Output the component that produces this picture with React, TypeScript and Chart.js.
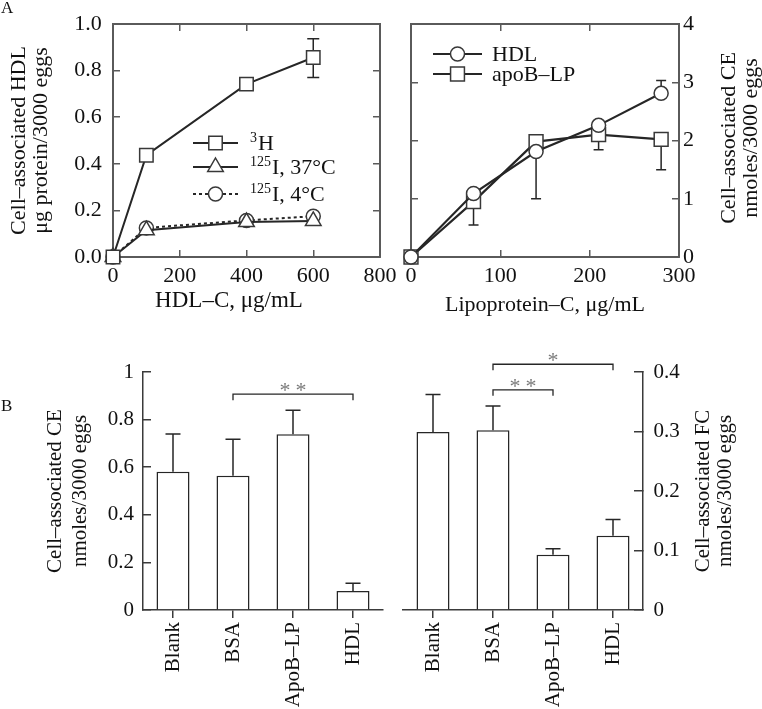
import React, { useEffect, useRef } from 'react';
import { Chart, registerables } from 'chart.js';

Chart.register(...registerables);

// ---------------- data ----------------
// Panel A (left): cell-associated HDL vs HDL-C
const hdlConcentrations = [0, 100, 400, 600];
const tritiumValues = [0, 0.437, 0.742, 0.856];
const tritiumErrLow = [null, null, null, 0.77];
const tritiumErrHigh = [null, null, null, 0.937];
const iodine37Values = [0, 0.115, 0.15, 0.155];
const iodine4Values = [0, 0.125, 0.157, 0.175];
const aLeftLegendSup = ['3', '125', '125'];
const aLeftLegendText = ['H', 'I, 37°C', 'I, 4°C'];

// Panel A (right): cell-associated CE vs lipoprotein-C
const lipoproteinConcentrations = [0, 70, 140, 210, 280];
const hdlCEValues = [0, 1.09, 1.81, 2.26, 2.81];
const hdlCEErrLow = [null, null, 1.0, null, null];
const hdlCEErrHigh = [null, null, null, null, 3.03];
const apoBCEValues = [0, 0.95, 1.98, 2.1, 2.02];
const apoBCEErrLow = [null, 0.55, null, 1.84, 1.5];
const apoBCEErrHigh = [null, null, null, null, null];
const aRightLegendText = ['HDL', 'apoB–LP'];

// Panel B
const treatments = ['Blank', 'BSA', 'ApoB–LP', 'HDL'];
const ceValues = [0.581, 0.564, 0.738, 0.08];
const ceErrHigh = [0.739, 0.717, 0.839, 0.112];
const fcValues = [0.299, 0.302, 0.093, 0.125];
const fcErrHigh = [0.362, 0.343, 0.103, 0.152];
const ceSignificance = [{ from: 'BSA', to: 'HDL', level: 0.907, text: '**' }];
const fcSignificance = [
  { from: 'BSA', to: 'ApoB–LP', level: 0.37, text: '**' },
  { from: 'BSA', to: 'HDL', level: 0.413, text: '*' },
];

// ---------------- styling ----------------
const SERIF = "'Liberation Serif', 'Times New Roman', Times, serif";
const TEXT = '#111111';
const LINE = '#262626';
const MARK = '#383838';
const FRAME = '#5a5a5a';
const AXIS = '#3a3a3a';

const fontA = { family: SERIF, size: 22 };
const fontB = { family: SERIF, size: 21 };

function drawMarker(ctx: CanvasRenderingContext2D, style: string, x: number, y: number, r: number) {
  ctx.beginPath();
  if (style === 'rect') {
    const s = r * Math.SQRT1_2;
    ctx.rect(x - s, y - s, 2 * s, 2 * s);
  } else if (style === 'circle') {
    ctx.arc(x, y, r, 0, Math.PI * 2);
  } else {
    ctx.moveTo(x, y - r);
    ctx.lineTo(x + 0.866 * r, y + 0.5 * r);
    ctx.lineTo(x - 0.866 * r, y + 0.5 * r);
    ctx.closePath();
  }
  ctx.fill();
  ctx.stroke();
}

function makeErrorBars(cap: number) {
  return {
    id: 'errorBars',
    beforeDatasetsDraw(chart: any) {
      const ctx = chart.ctx as CanvasRenderingContext2D;
      ctx.save();
      ctx.strokeStyle = LINE;
      ctx.lineWidth = 1.5;
      ctx.setLineDash([]);
      chart.data.datasets.forEach((ds: any, di: number) => {
        const meta = chart.getDatasetMeta(di);
        const yScale = chart.scales[meta.yAxisID];
        meta.data.forEach((el: any, i: number) => {
          [ds.errLow ? ds.errLow[i] : null, ds.errHigh ? ds.errHigh[i] : null].forEach((v) => {
            if (v == null) return;
            const yp = yScale.getPixelForValue(v);
            ctx.beginPath();
            ctx.moveTo(el.x, el.y);
            ctx.lineTo(el.x, yp);
            ctx.moveTo(el.x - cap, yp);
            ctx.lineTo(el.x + cap, yp);
            ctx.stroke();
          });
        });
      });
      ctx.restore();
    },
  };
}

function makeInsetLegend(
  items: { sup?: string; text: string; marker: string; r: number; dash?: number[] }[],
  geo: { x0: number; x1: number; textX: number; rows: number[]; size: number }
) {
  return {
    id: 'insetLegend',
    afterDatasetsDraw(chart: any) {
      const ctx = chart.ctx as CanvasRenderingContext2D;
      items.forEach((it, k) => {
        const y = geo.rows[k];
        ctx.save();
        ctx.strokeStyle = LINE;
        ctx.lineWidth = 2;
        ctx.setLineDash(it.dash || []);
        ctx.beginPath();
        ctx.moveTo(geo.x0, y);
        ctx.lineTo(geo.x1, y);
        ctx.stroke();
        ctx.setLineDash([]);
        ctx.fillStyle = '#fff';
        ctx.strokeStyle = MARK;
        ctx.lineWidth = 1.5;
        drawMarker(ctx, it.marker, (geo.x0 + geo.x1) / 2, y, it.r);
        ctx.fillStyle = TEXT;
        ctx.textAlign = 'left';
        ctx.textBaseline = 'alphabetic';
        const base = y + geo.size * 0.34;
        let x = geo.textX;
        if (it.sup) {
          ctx.font = `${Math.round(geo.size * 0.64)}px ${SERIF}`;
          ctx.fillText(it.sup, x, base - geo.size * 0.38);
          x += ctx.measureText(it.sup).width + 1;
        }
        ctx.font = `${geo.size}px ${SERIF}`;
        ctx.fillText(it.text, x, base);
        ctx.restore();
      });
    },
  };
}

function makeSideTitle(lines: string[], xs: number[], yc: number, size: number) {
  return {
    id: 'sideTitle',
    afterDraw(chart: any) {
      const ctx = chart.ctx as CanvasRenderingContext2D;
      ctx.save();
      ctx.fillStyle = TEXT;
      ctx.font = `${size}px ${SERIF}`;
      ctx.textAlign = 'center';
      ctx.textBaseline = 'middle';
      lines.forEach((t, i) => {
        ctx.save();
        ctx.translate(xs[i], yc);
        ctx.rotate(-Math.PI / 2);
        ctx.fillText(t, 0, 0);
        ctx.restore();
      });
      ctx.restore();
    },
  };
}

function makeBottomTitle(text: string, x: number, y: number, size: number) {
  return {
    id: 'bottomTitle',
    afterDraw(chart: any) {
      const ctx = chart.ctx as CanvasRenderingContext2D;
      ctx.save();
      ctx.fillStyle = TEXT;
      ctx.font = `${size}px ${SERIF}`;
      ctx.textAlign = 'center';
      ctx.textBaseline = 'middle';
      ctx.fillText(text, x, y);
      ctx.restore();
    },
  };
}

function makeBrackets(items: { from: string; to: string; level: number; text: string }[]) {
  return {
    id: 'sigBrackets',
    afterDatasetsDraw(chart: any) {
      const ctx = chart.ctx as CanvasRenderingContext2D;
      const xs = chart.scales.x;
      const ys = chart.scales.y;
      items.forEach((b) => {
        const xa = xs.getPixelForValue(treatments.indexOf(b.from));
        const xb = xs.getPixelForValue(treatments.indexOf(b.to));
        const yp = ys.getPixelForValue(b.level);
        ctx.save();
        ctx.strokeStyle = LINE;
        ctx.lineWidth = 1.3;
        ctx.beginPath();
        ctx.moveTo(xa, yp + 6);
        ctx.lineTo(xa, yp);
        ctx.lineTo(xb, yp);
        ctx.lineTo(xb, yp + 6);
        ctx.stroke();
        ctx.fillStyle = '#7a7a7a';
        ctx.font = `22px ${SERIF}`;
        ctx.textAlign = 'center';
        ctx.textBaseline = 'alphabetic';
        const chars = b.text.split('');
        const pitch = 16;
        const cx = (xa + xb) / 2;
        chars.forEach((c, i) => {
          ctx.fillText(c, cx + (i - (chars.length - 1) / 2) * pitch, yp + 3);
        });
        ctx.restore();
      });
    },
  };
}

const gridInA = { drawOnChartArea: false, drawTicks: true, tickLength: -7, color: FRAME, lineWidth: 1.5 };
const borderA = { color: FRAME, width: 2 };

function fix(w: number | null, h: number | null) {
  return (s: any) => {
    if (w != null) s.width = w;
    if (h != null) s.height = h;
    s.paddingTop = 0;
    s.paddingBottom = 0;
    s.paddingLeft = 0;
    s.paddingRight = 0;
  };
}

const baseOptions = {
  responsive: false,
  maintainAspectRatio: false,
  animation: false,
  events: [],
};

function aLeftConfig(): any {
  const pts = (ys: number[]) => hdlConcentrations.map((x, i) => ({ x, y: ys[i] }));
  const common = {
    showLine: true,
    borderColor: LINE,
    borderWidth: 2,
    pointBackgroundColor: '#fff',
    pointBorderColor: MARK,
    pointBorderWidth: 1.5,
    clip: false,
  };
  return {
    type: 'scatter',
    data: {
      datasets: [
        { ...common, label: '³H', data: pts(tritiumValues), errLow: tritiumErrLow, errHigh: tritiumErrHigh, pointStyle: 'rect', pointRadius: 9.5 },
        { ...common, label: '¹²⁵I, 37°C', data: pts(iodine37Values), pointStyle: 'triangle', pointRadius: 9 },
        { ...common, label: '¹²⁵I, 4°C', data: pts(iodine4Values), pointStyle: 'circle', pointRadius: 7, borderDash: [3, 3] },
      ],
    },
    options: {
      ...baseOptions,
      layout: { padding: 0 },
      plugins: { legend: { display: false }, tooltip: { enabled: false } },
      scales: {
        x: {
          type: 'linear', position: 'bottom', min: 0, max: 800,
          ticks: { stepSize: 200, font: fontA, color: TEXT, padding: 13.5 },
          grid: gridInA, border: borderA,
          title: { display: false },
          afterFit: fix(null, 73),
        },
        xTop: {
          type: 'linear', position: 'top', min: 0, max: 800,
          ticks: { display: false, stepSize: 200 },
          grid: gridInA, border: borderA,
          afterFit: fix(null, 24),
        },
        y: {
          type: 'linear', position: 'left', min: 0, max: 1,
          ticks: { stepSize: 0.2, font: fontA, color: TEXT, padding: 18.3, callback: (v: any) => Number(v).toFixed(1) },
          grid: gridInA, border: borderA,
          title: {
            display: true, text: ['Cell–associated HDL', 'μg protein/3000 eggs'],
            font: { family: SERIF, size: 22, lineHeight: 1.0 }, color: TEXT, padding: { top: 8, bottom: 0 },
          },
          afterFit: fix(113, null),
        },
        yRight: {
          type: 'linear', position: 'right', min: 0, max: 1,
          ticks: { display: false, stepSize: 0.2 },
          grid: gridInA, border: borderA,
          afterFit: fix(20, null),
        },
      },
    },
    plugins: [
      makeErrorBars(6),
      makeInsetLegend(
        [
          { sup: aLeftLegendSup[0], text: aLeftLegendText[0], marker: 'rect', r: 9.5 },
          { sup: aLeftLegendSup[1], text: aLeftLegendText[1], marker: 'triangle', r: 9 },
          { sup: aLeftLegendSup[2], text: aLeftLegendText[2], marker: 'circle', r: 7, dash: [3, 3] },
        ],
        { x0: 193, x1: 238, textX: 250, rows: [143, 167, 194], size: 22 }
      ),
      makeBottomTitle('HDL–C, μg/mL', 229, 301, 23),
    ],
  };
}

function aRightConfig(): any {
  const pts = (ys: number[]) => lipoproteinConcentrations.map((x, i) => ({ x, y: ys[i] }));
  const common = {
    showLine: true,
    borderColor: LINE,
    borderWidth: 2.2,
    pointBackgroundColor: '#fff',
    pointBorderColor: MARK,
    pointBorderWidth: 1.5,
    clip: false,
  };
  return {
    type: 'scatter',
    data: {
      datasets: [
        { ...common, label: aRightLegendText[0], data: pts(hdlCEValues), errLow: hdlCEErrLow, errHigh: hdlCEErrHigh, pointStyle: 'circle', pointRadius: 7 },
        { ...common, label: aRightLegendText[1], data: pts(apoBCEValues), errLow: apoBCEErrLow, errHigh: apoBCEErrHigh, pointStyle: 'rect', pointRadius: 9.8 },
      ],
    },
    options: {
      ...baseOptions,
      layout: { padding: 0 },
      plugins: { legend: { display: false }, tooltip: { enabled: false } },
      scales: {
        x: {
          type: 'linear', position: 'bottom', min: 0, max: 300,
          ticks: { stepSize: 100, font: fontA, color: TEXT, padding: 13 },
          grid: gridInA, border: borderA,
          title: { display: true, text: 'Lipoprotein–C, μg/mL', font: fontA, color: TEXT, padding: { top: 0, bottom: 12 } },
          afterFit: fix(null, 73),
        },
        xTop: {
          type: 'linear', position: 'top', min: 0, max: 300,
          ticks: { display: false, stepSize: 100 },
          grid: gridInA, border: borderA,
          afterFit: fix(null, 24),
        },
        y: {
          type: 'linear', position: 'left', min: 0, max: 4,
          ticks: { display: false, stepSize: 1 },
          grid: gridInA, border: borderA,
          afterFit: fix(30, null),
        },
        yRight: {
          type: 'linear', position: 'right', min: 0, max: 4,
          ticks: { stepSize: 1, font: fontA, color: TEXT, padding: 11 },
          grid: gridInA, border: borderA,
          afterFit: fix(83, null),
        },
      },
    },
    plugins: [
      makeErrorBars(5),
      makeInsetLegend(
        [
          { text: aRightLegendText[0], marker: 'circle', r: 7 },
          { text: aRightLegendText[1], marker: 'rect', r: 9.8 },
        ],
        { x0: 52, x1: 101, textX: 111, rows: [54, 74], size: 22 }
      ),
      makeSideTitle(['Cell–associated CE', 'nmoles/3000 eggs'], [348, 370], 138, 22),
    ],
  };
}

function barConfig(
  values: number[], errHigh: number[], max: number, step: number,
  side: 'left' | 'right', sig: any[], padding: any, axisW: number
): any {
  const isLeft = side === 'left';
  return {
    type: 'bar',
    data: {
      labels: treatments,
      datasets: [
        {
          data: values, errHigh,
          backgroundColor: '#fff', borderColor: LINE, borderWidth: 1.5,
          barPercentage: 0.55, categoryPercentage: 1,
        },
      ],
    },
    options: {
      ...baseOptions,
      layout: { padding },
      plugins: { legend: { display: false }, tooltip: { enabled: false } },
      scales: {
        x: {
          position: 'bottom',
          ticks: { font: fontB, color: TEXT, minRotation: 90, maxRotation: 90, autoSkip: false, padding: 4 },
          grid: { offset: false, drawOnChartArea: false, drawTicks: true, tickLength: 8, color: AXIS, lineWidth: 1.5 },
          border: { color: AXIS, width: 1.5 },
          afterFit: fix(null, 99),
        },
        y: {
          position: side, min: 0, max,
          ticks: {
            stepSize: step, font: fontB, color: TEXT, padding: isLeft ? 17 : 19.5,
            callback: (v: any) => String(Math.round(Number(v) * 10) / 10),
          },
          grid: { drawOnChartArea: false, drawTicks: true, tickLength: isLeft ? -8 : -9, color: AXIS, lineWidth: 1.5 },
          border: { color: AXIS, width: 1.5 },
          title: isLeft
            ? {
                display: true, text: ['Cell–associated CE', 'nmoles/3000 eggs'],
                font: { family: SERIF, size: 21, lineHeight: 1.19 }, color: TEXT, padding: { top: 42.5, bottom: 0 },
              }
            : { display: false },
          afterFit: fix(axisW, null),
        },
      },
    },
    plugins: [
      makeErrorBars(7.5),
      makeBrackets(sig),
      ...(isLeft ? [] : [makeSideTitle(['Cell–associated FC', 'nmoles/3000 eggs'], [322, 344], 151, 21)]),
    ],
  };
}

function ChartBox(props: { left: number; top: number; width: number; height: number; make: () => any }) {
  const ref = useRef<HTMLCanvasElement>(null);
  useEffect(() => {
    const chart = new Chart(ref.current as HTMLCanvasElement, props.make());
    return () => chart.destroy();
  }, []);
  return (
    <canvas
      ref={ref}
      width={props.width}
      height={props.height}
      style={{ position: 'absolute', left: props.left, top: props.top, width: props.width, height: props.height }}
    />
  );
}

const labelStyle: React.CSSProperties = {
  position: 'absolute',
  fontFamily: SERIF,
  fontSize: 17,
  lineHeight: 1,
  color: TEXT,
};

export default function App() {
  return (
    <div style={{ position: 'absolute', left: 0, top: 0, width: 762, height: 709, background: '#fff', overflow: 'hidden' }}>
      <ChartBox left={0} top={0} width={400} height={330} make={aLeftConfig} />
      <ChartBox left={381} top={0} width={381} height={330} make={aRightConfig} />
      <ChartBox
        left={0} top={340} width={400} height={369}
        make={() => barConfig(ceValues, ceErrHigh, 1, 0.2, 'left', ceSignificance, { top: 32, right: 17, left: 0, bottom: 0 }, 143)}
      />
      <ChartBox
        left={381} top={340} width={381} height={369}
        make={() => barConfig(fcValues, fcErrHigh, 0.4, 0.1, 'right', fcSignificance, { top: 32, right: 0, left: 22, bottom: 0 }, 119)}
      />
      <span style={{ ...labelStyle, left: 1, top: -1 }}>A</span>
      <span style={{ ...labelStyle, left: 1, top: 397 }}>B</span>
    </div>
  );
}
